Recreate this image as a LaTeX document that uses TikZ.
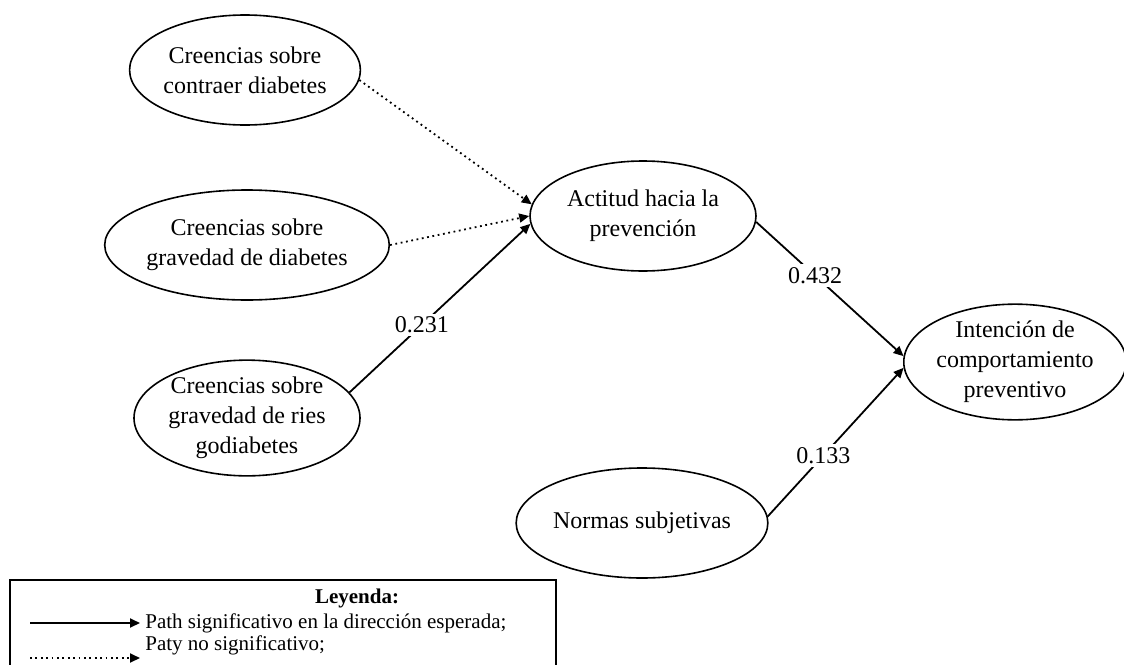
\documentclass[tikz,border=0pt]{standalone}
\usepackage{fontspec}
\setmainfont{Liberation Serif}
\usetikzlibrary{shapes.geometric,arrows.meta}
\begin{document}
\begin{tikzpicture}[x=0.5pt,y=-0.5pt,
    var/.style={ellipse,draw,line width=0.8pt,minimum width=113pt,minimum height=55pt,inner sep=0pt,align=center,font=\fontsize{12}{15}\selectfont},
    sig/.style={line width=0.9pt,-{Triangle[length=5pt,width=4.5pt]}},
    nosig/.style={sig,dash pattern=on 0.9pt off 1.8pt},
    coef/.style={fill=white,inner sep=1.5pt,font=\fontsize{12}{14}\selectfont},
    ley/.style={inner sep=0pt,font=\fontsize{10.5}{12}\selectfont}]
  \useasboundingbox (0,0) rectangle (1124,664);
  \node[var] (a) at (245,70) {Creencias sobre\\contraer diabetes};
  \node[var] (b) at (247,245) {Creencias sobre\\gravedad de diabetes};
  \node[var] (c) at (247,418) {Creencias sobre\\gravedad de ries\\godiabetes};
  \node[var] (d) at (643,216) {Actitud hacia la\\prevención};
  \node[var,minimum width=107pt] (e) at (642,523) {Normas subjetivas};
  \node[var,minimum width=107pt] (f) at (1015,362) {Intención de\\comportamiento\\preventivo};
  \draw[nosig] (a.-5) -- (d.174);
  \draw[nosig] (b.east) -- (d.180);
  \draw[sig] (c.14) -- node[coef,pos=0.4] {0.231} (d.184);
  \draw[sig] (d.-3) -- node[coef,pos=0.4] {0.432} (f.177);
  \draw[sig] (e.3) -- node[coef,pos=0.41] {0.133} (f.183);
  % leyenda
  \draw[line width=0.8pt] (10,580) rectangle (556,690);
  \node[ley,font=\bfseries\fontsize{10.5}{12}\selectfont] (l0) at (357,598) {Leyenda:};
  \node[ley,anchor=west] (l1) at (145,623) {Path significativo en la dirección esperada;};
  \node[ley,anchor=west] (l2) at (145,645) {Paty no significativo;};
  \coordinate (s1) at (30,623); \coordinate (s2) at (140,623);
  \coordinate (n1) at (30,658); \coordinate (n2) at (140,658);
  \draw[sig] (s1) -- (s2);
  \draw[nosig] (n1) -- (n2);
\end{tikzpicture}
\end{document}
